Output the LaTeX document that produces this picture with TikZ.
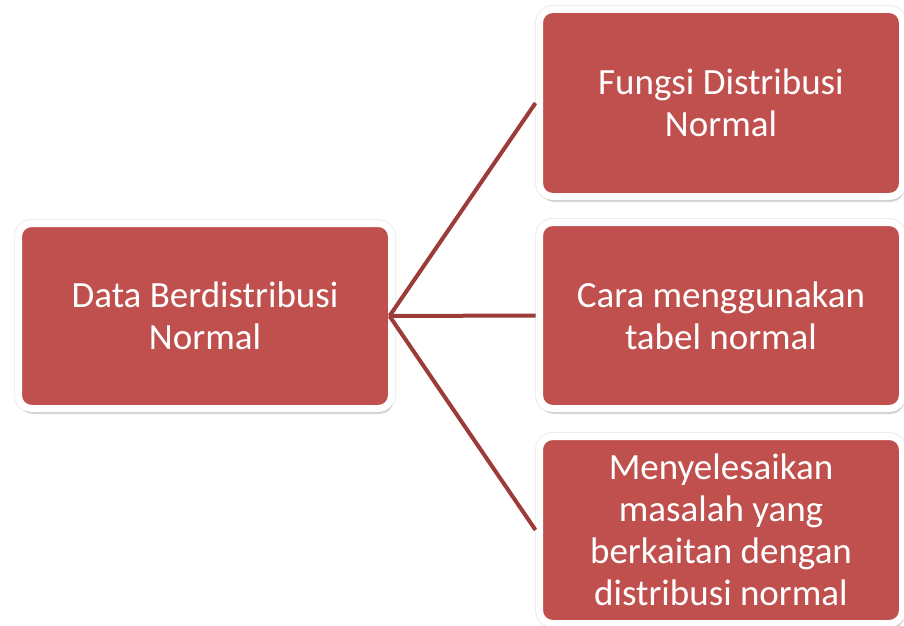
\documentclass[tikz,border=0pt]{standalone}
\usepackage{fontspec}
\setmainfont{Carlito}
\usetikzlibrary{shadows,backgrounds}
\definecolor{boxred}{HTML}{C0504D}
\definecolor{linkred}{HTML}{9B3C39}
\tikzset{
  redbox/.style={rectangle,rounded corners=13pt,fill=boxred,draw=white,
    line width=7pt,outer sep=0pt,text=white,align=center,
    font=\fontsize{37}{42}\selectfont,
    preaction={draw=black!7,line width=9pt},
    drop shadow={opacity=0.3,shadow xshift=1.5pt,shadow yshift=-5.5pt}},
  link/.style={draw=linkred,line width=4pt}
}

\begin{document}
\begin{tikzpicture}[x=1pt,y=1pt]
\coordinate (c1) at (205.0,309.0);
\coordinate (c2) at (721.0,522.0);
\coordinate (c3) at (721.0,309.5);
\coordinate (c4) at (721.0,95.0);
\useasboundingbox (0,0) rectangle (904,625);
\node [redbox,minimum width=373pt,minimum height=185pt] (data)
    at (c1) {Data Berdistribusi\\Normal};
\node [redbox,minimum width=363pt,minimum height=187pt] (fungsi)
    at (c2) {Fungsi Distribusi\\Normal};
\node [redbox,minimum width=363pt,minimum height=186pt] (cara)
    at (c3) {Cara menggunakan\\tabel normal};
\node [redbox,minimum width=363pt,minimum height=187pt] (masalah)
    at (c4) {Menyelesaikan\\masalah yang\\berkaitan dengan\\distribusi normal};
\draw [link] ([xshift=-2pt]data.east) -- ([xshift=-4pt]fungsi.west);
\draw [link] ([xshift=-2pt]data.east) -- ([xshift=-4pt]cara.west);
\draw [link] ([xshift=-2pt]data.east) -- ([xshift=-4pt]masalah.west);
\begin{scope}[on background layer]
\fill [white] (0,0) rectangle (904,625);
\end{scope}
\end{tikzpicture}
\end{document}
